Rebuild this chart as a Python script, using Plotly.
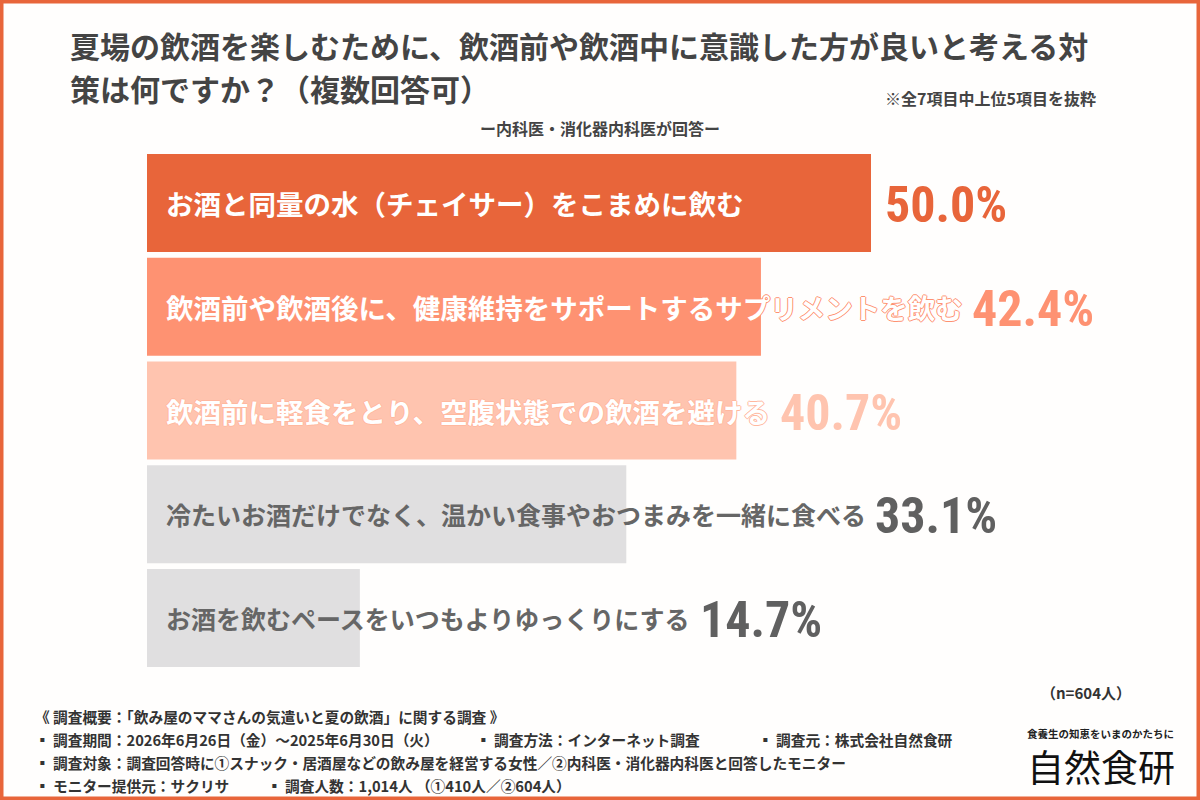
import plotly.graph_objects as go

# ---- data ----
categories = [
    "お酒と同量の水（チェイサー）をこまめに飲む",
    "飲酒前や飲酒後に、健康維持をサポートするサプリメントを飲む",
    "飲酒前に軽食をとり、空腹状態での飲酒を避ける",
    "冷たいお酒だけでなく、温かい食事やおつまみを一緒に食べる",
    "お酒を飲むペースをいつもよりゆっくりにする",
]
values = [50.0, 42.4, 40.7, 33.1, 14.7]
value_labels = ["50.0%", "42.4%", "40.7%", "33.1%", "14.7%"]

bar_colors = ["#E8653A", "#FE9272", "#FFC4AF", "#E0DFE0", "#E0DFE0"]
label_colors = ["#FFFFFF", "#FFFFFF", "#FFFFFF", "#666666", "#666666"]
label_outline = ["#E8653A", "#FE9272", "#FFB89F", None, None]
pct_colors = ["#E8653A", "#FE9272", "#FFC4AF", "#606060", "#606060"]
label_sizes = [27.5, 27.5, 27.5, 25, 25]

title_lines = ["夏場の飲酒を楽しむために、飲酒前や飲酒中に意識した方が良いと考える対",
               "策は何ですか？（複数回答可）"]
title_y = [45, 88]
note_text = "※全7項目中上位5項目を抜粋"
sub_text = "ー内科医・消化器内科医が回答ー"
n_text = "（n=604人）"
footer_lines = [
    [("《 調査概要：「飲み屋のママさんの気遣いと夏の飲酒」に関する調査 》", 33)],
    [("▪ 調査期間：2026年6月26日（金）～2025年6月30日（火）", 33),
     ("▪ 調査方法：インターネット調査", 474),
     ("▪ 調査元：株式会社自然食研", 756)],
    [("▪ 調査対象：調査回答時に①スナック・居酒屋などの飲み屋を経営する女性／②内科医・消化器内科医と回答したモニター", 33)],
    [("▪ モニター提供元：サクリサ", 33),
     ("▪ 調査人数：1,014人 （①410人／②604人）", 265)],
]
footer_y = [716, 739, 762, 785]
logo_tag = "食養生の知恵をいまのかたちに"
logo_name = "自然食研"

# ---- layout geometry ----
W, H = 1200, 800
L, R, T, B = 147, 53, 151, 130
PW, PH = W - L - R, H - T - B
XMAX = 50.0 * PW / 724.0   # 50% bar spans 724px


def px(x):
    return (x - L) / PW


def py(y):
    return (H - B - y) / PH


JP = "Noto Sans CJK JP"
NUM = "Liberation Sans Narrow, Roboto Condensed, Arial Narrow, Roboto, sans-serif"

fig = go.Figure()
fig.add_trace(go.Bar(
    x=values, y=categories, orientation="h",
    marker=dict(color=bar_colors, line=dict(width=0)),
    hoverinfo="skip", showlegend=False,
))

ann = []
ppu = PW / XMAX
for i, (c, v) in enumerate(zip(categories, values)):
    fs = label_sizes[i]
    shadow = "none"
    if label_outline[i]:
        o = label_outline[i]
        shadow = f"1px 0 0 {o}, -1px 0 0 {o}, 0 1px 0 {o}, 0 -1px 0 {o}"
    ann.append(dict(
        x=0, y=c, xref="x", yref="y", text=c, showarrow=False,
        xanchor="left", yanchor="middle", xshift=17,
        font=dict(family=JP, size=fs, color=label_colors[i], weight="bold", shadow=shadow),
    ))
    text_end = (17 + len(c) * fs * 0.995) / ppu
    xpos = max(v, text_end)
    ann.append(dict(
        x=xpos, y=c, xref="x", yref="y", text=value_labels[i], showarrow=False,
        xanchor="left", yanchor="middle", xshift=12, yshift=-2,
        font=dict(family=NUM, size=50, color=pct_colors[i], weight="bold"),
    ))

# title
for t_line, ty in zip(title_lines, title_y):
    ann.append(dict(x=px(68), y=py(ty), xref="paper", yref="paper", text=t_line,
                    showarrow=False, xanchor="left", yanchor="middle", align="left",
                    font=dict(family=JP, size=30, color="#444444", weight="bold")))
ann.append(dict(x=px(1098), y=py(98), xref="paper", yref="paper", text=note_text,
                showarrow=False, xanchor="right", yanchor="middle",
                font=dict(family=JP, size=16, color="#444444", weight="bold")))
ann.append(dict(x=px(600), y=py(128), xref="paper", yref="paper", text=sub_text,
                showarrow=False, xanchor="center", yanchor="middle",
                font=dict(family=JP, size=16, color="#444444", weight="bold")))
ann.append(dict(x=px(1133), y=py(692), xref="paper", yref="paper", text=n_text,
                showarrow=False, xanchor="right", yanchor="middle",
                font=dict(family=JP, size=15, color="#333333", weight="bold")))
for line, yy in zip(footer_lines, footer_y):
    for txt, xx in line:
        ann.append(dict(x=px(xx), y=py(yy), xref="paper", yref="paper", text=txt,
                        showarrow=False, xanchor="left", yanchor="middle",
                        font=dict(family=JP, size=14.7, color="#333333", weight="bold")))
ann.append(dict(x=px(1100), y=py(733), xref="paper", yref="paper", text=logo_tag,
                showarrow=False, xanchor="center", yanchor="middle",
                font=dict(family=JP, size=10.5, color="#222222", weight="bold")))
ann.append(dict(x=px(1101), y=py(766), xref="paper", yref="paper", text=logo_name,
                showarrow=False, xanchor="center", yanchor="middle",
                font=dict(family=JP, size=37, color="#111111")))

# orange frame
bw = 4
frame = dict(type="rect", xref="paper", yref="paper",
             x0=px(bw / 2 - 0.5), x1=px(W - bw / 2 + 0.5),
             y0=py(H - bw / 2 + 0.5), y1=py(bw / 2 - 0.5),
             line=dict(color="#E8653A", width=bw), fillcolor="rgba(0,0,0,0)", layer="above")

fig.update_layout(
    width=W, height=H,
    margin=dict(l=L, r=R, t=T, b=B, pad=0),
    paper_bgcolor="#FFFEFD", plot_bgcolor="rgba(0,0,0,0)",
    bargap=0.056,
    xaxis=dict(range=[0, XMAX], visible=False, fixedrange=True),
    yaxis=dict(autorange="reversed", visible=False, fixedrange=True),
    annotations=ann, shapes=[frame],
    showlegend=False,
)

fig.write_html("out.html", config={"displayModeBar": False})
